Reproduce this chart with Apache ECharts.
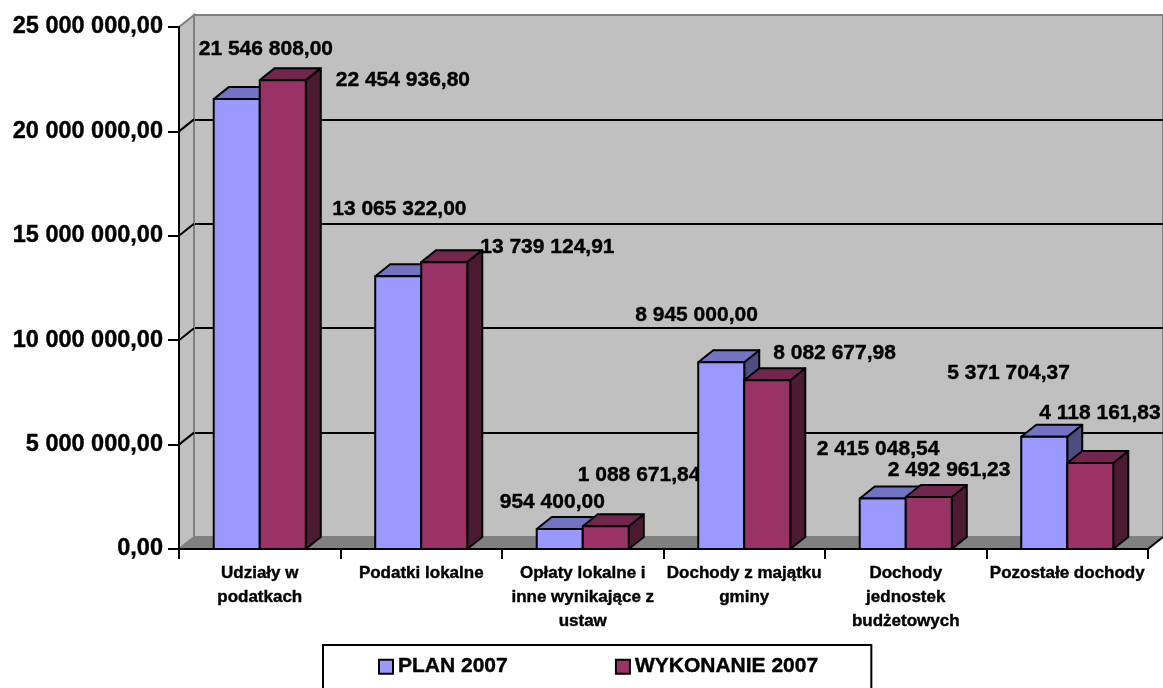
<!DOCTYPE html>
<html>
<head>
<meta charset="utf-8">
<script src="https://cdn.jsdelivr.net/npm/echarts@6/dist/echarts.min.js"></script>
<style>
  html, body { margin: 0; padding: 0; background: #fff; }
  #chart { width: 1163px; height: 688px; }
</style>
</head>
<body>
<div id="chart"></div>
<script>
// dane
const categories = [
  'Udziały w\npodatkach',
  'Podatki lokalne',
  'Opłaty lokalne i\ninne wynikające z\nustaw',
  'Dochody z majątku\ngminy',
  'Dochody\njednostek\nbudżetowych',
  'Pozostałe dochody'
]
const planValues = [21546808.00, 13065322.00, 954400.00, 8945000.00, 2415048.54, 5371704.37]
const wykonanieValues = [22454936.80, 13739124.91, 1088671.84, 8082677.98, 2492961.23, 4118161.83]
const yTicks = [0, 5000000, 10000000, 15000000, 20000000, 25000000]

// przesunięcia etykiet (lewa krawędź względem słupka, środek względem góry)
const planLabelOffsets = [[-15, -50], [-43, -67], [-37, -27], [-63, -47], [-43, -49], [-74, -64]]
const wykLabelOffsets = [[76, 0], [59, -15], [-5, -51], [29, -27], [-18, -27], [-28, -50]]

const FONT = 'Arial, "Liberation Sans", sans-serif'
// pogrubienie tekstu jak w Excelu
const HEAVY = { textBorderColor: '#000', textBorderWidth: 0.4 }
// głębokość efektu 3D
const DX = 15
const DY = -12
const BAR_RATIO = 0.285

// format: 25 000 000,00
const fmt = (v) => {
  const parts = v.toFixed(2).split('.')
  return parts[0].replace(/\B(?=(\d{3})+(?!\d))/g, ' ') + ',' + parts[1]
}

const chart = echarts.init(document.getElementById('chart'))

// słupek 3D: przód, góra, bok
const barRender = (shift, colors) => (params, api) => {
  const idx = api.value(0)
  const top = api.coord([idx, api.value(1)])
  const base = api.coord([idx, 0])
  const w = api.size([1, 0])[0] * BAR_RATIO
  const x0 = top[0] + shift * w
  const x1 = x0 + w
  const y0 = top[1]
  const y1 = base[1]
  const line = { stroke: '#000', lineWidth: 2, lineJoin: 'round' }
  return {
    type: 'group',
    children: [
      {
        type: 'polygon',
        shape: { points: [[x1, y0], [x1 + DX, y0 + DY], [x1 + DX, y1 + DY], [x1, y1]] },
        style: Object.assign({ fill: colors[2] }, line)
      },
      {
        type: 'polygon',
        shape: { points: [[x0, y0], [x0 + DX, y0 + DY], [x1 + DX, y0 + DY], [x1, y0]] },
        style: Object.assign({ fill: colors[1] }, line)
      },
      {
        type: 'rect',
        shape: { x: x0, y: y0, width: w, height: y1 - y0 },
        style: Object.assign({ fill: colors[0] }, line)
      }
    ]
  }
}

// ściana lewa, podłoga i linie siatki na ścianie bocznej
const wallRender = (params, api) => {
  const cs = params.coordSys
  const left = cs.x
  const right = cs.x + cs.width
  const bottom = cs.y + cs.height
  const topY = cs.y
  const y = api.coord([0, api.value(1)])[1]
  const children = []
  if (params.dataIndex === 0) {
    children.push({
      type: 'polygon',
      shape: { points: [[left, bottom], [left, topY], [left + DX, topY + DY], [left + DX, bottom + DY]] },
      style: { fill: '#C0C0C0', stroke: '#808080', lineWidth: 2 }
    })
    children.push({
      type: 'polygon',
      shape: { points: [[left, bottom], [right, bottom], [right + DX, bottom + DY], [left + DX, bottom + DY]] },
      style: { fill: '#808080', stroke: '#808080', lineWidth: 1 }
    })
    children.push({
      type: 'line',
      shape: { x1: right, y1: bottom, x2: right + DX, y2: bottom + DY },
      style: { stroke: '#000', lineWidth: 2 }
    })
  } else if (params.dataIndex < yTicks.length - 1) {
    children.push({
      type: 'line',
      shape: { x1: left, y1: y, x2: left + DX, y2: y + DY },
      style: { stroke: '#000', lineWidth: 2 }
    })
  }
  return { type: 'group', children: children }
}

// etykiety danych (pod słupkami)
const labelRender = (params, api) => {
  const idx = api.value(0)
  const i = params.dataIndex
  const w = api.size([1, 0])[0] * BAR_RATIO
  const p = api.coord([idx, api.value(1)])
  const k = api.coord([idx, api.value(2)])
  const txt = Object.assign({ fill: '#000', fontSize: 21, fontWeight: 'bold', fontFamily: FONT, align: 'left', verticalAlign: 'middle', stroke: '#000', lineWidth: 0.4 })
  return {
    type: 'group',
    children: [
      {
        type: 'text',
        x: p[0] - w + planLabelOffsets[i][0],
        y: p[1] + planLabelOffsets[i][1],
        style: Object.assign({ text: fmt(api.value(1)) }, txt)
      },
      {
        type: 'text',
        x: k[0] + wykLabelOffsets[i][0],
        y: k[1] + wykLabelOffsets[i][1],
        style: Object.assign({ text: fmt(api.value(2)) }, txt)
      }
    ]
  }
}

const option = {
  animation: false,
  backgroundColor: '#fff',
  grid: [
    // przód (osie)
    { left: 179, right: 15, top: 27, bottom: 139, z: 0 },
    // tylna ściana
    { left: 194, right: 0, top: 15, bottom: 151, show: true, backgroundColor: '#C0C0C0', borderColor: '#808080', borderWidth: 2, z: 0 }
  ],
  xAxis: [
    {
      type: 'category',
      gridIndex: 0,
      data: categories,
      z: 4,
      axisLine: { lineStyle: { color: '#000', width: 2 } },
      axisTick: { show: true, length: 10, lineStyle: { color: '#000', width: 2 } },
      axisLabel: Object.assign({
        interval: 0,
        margin: 12,
        color: '#000',
        fontSize: 17,
        fontWeight: 'bold',
        fontFamily: FONT,
        lineHeight: 24,
        align: 'center'
      }, HEAVY)
    },
    { type: 'category', gridIndex: 1, data: categories, show: false }
  ],
  yAxis: [
    {
      type: 'value',
      gridIndex: 0,
      min: 0,
      max: 25000000,
      interval: 5000000,
      z: 4,
      axisLine: { show: true, lineStyle: { color: '#000', width: 2 } },
      axisTick: { show: true, length: 11, lineStyle: { color: '#000', width: 2 } },
      splitLine: { show: false },
      axisLabel: Object.assign({
        margin: 16,
        color: '#000',
        fontSize: 23.5,
        fontWeight: 'bold',
        fontFamily: FONT,
        formatter: (v) => fmt(v)
      }, HEAVY)
    },
    {
      type: 'value',
      gridIndex: 1,
      min: 0,
      max: 25000000,
      interval: 5000000,
      axisLine: { show: false },
      axisTick: { show: false },
      axisLabel: { show: false },
      splitLine: { show: true, showMinLine: false, showMaxLine: false, lineStyle: { color: '#000', width: 2 } }
    }
  ],
  legend: {
    data: ['PLAN 2007', 'WYKONANIE 2007'],
    left: 323,
    top: 645,
    orient: 'horizontal',
    icon: 'rect',
    itemWidth: 14,
    itemHeight: 14,
    itemGap: 107,
    padding: [11, 53, 40, 55],
    borderColor: '#000',
    borderWidth: 2,
    backgroundColor: '#fff',
    itemStyle: { borderColor: '#000', borderWidth: 2 },
    textStyle: Object.assign({ color: '#000', fontSize: 21, fontWeight: 'bold', fontFamily: FONT }, HEAVY)
  },
  series: [
    {
      name: 'walls',
      type: 'custom',
      xAxisIndex: 0,
      yAxisIndex: 0,
      z: 1,
      silent: true,
      renderItem: wallRender,
      encode: { x: 0, y: 1 },
      data: yTicks.map((v) => [0, v])
    },
    {
      name: 'labels',
      type: 'custom',
      xAxisIndex: 0,
      yAxisIndex: 0,
      z: 2,
      silent: true,
      renderItem: labelRender,
      encode: { x: 0, y: 1 },
      data: categories.map((c, i) => [i, planValues[i], wykonanieValues[i]])
    },
    {
      name: 'PLAN 2007',
      type: 'custom',
      xAxisIndex: 0,
      yAxisIndex: 0,
      z: 3,
      itemStyle: { color: '#9999FF' },
      renderItem: barRender(-1, ['#9999FF', '#7373C4', '#4D4D80']),
      encode: { x: 0, y: 1 },
      data: planValues.map((v, i) => [i, v])
    },
    {
      name: 'WYKONANIE 2007',
      type: 'custom',
      xAxisIndex: 0,
      yAxisIndex: 0,
      z: 3,
      itemStyle: { color: '#993366' },
      renderItem: barRender(0, ['#993366', '#73264D', '#4D1A33']),
      encode: { x: 0, y: 1 },
      data: wykonanieValues.map((v, i) => [i, v])
    }
  ]
}

chart.setOption(option)
</script>
</body>
</html>
